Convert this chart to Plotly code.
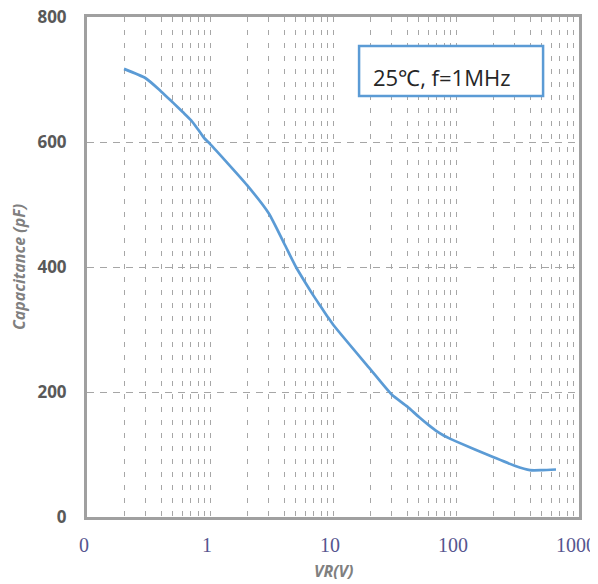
import plotly.graph_objects as go

# Data
vr = [0.2, 0.3, 0.4, 0.5, 0.6, 0.7, 0.8, 0.9, 1, 2, 3, 4, 5, 6, 7, 8, 9, 10,
      20, 30, 40, 50, 60, 70, 80, 90, 100, 200, 300, 400, 500, 650]
cap = [717, 702, 681, 663, 648, 635, 620, 606, 597, 531, 486, 438, 400, 374, 353, 336, 321, 308,
       237, 196, 177, 160, 147, 137, 130, 125, 121, 96, 82, 75, 75, 76]

x_label_vals = [0.1, 1, 10, 100, 1000]
x_label_text = ["0", "1", "10", "100", "1000"]
y_ticks = [0, 200, 400, 600, 800]
note_text = "25℃, f=1MHz"

# grid positions: 1..9 x each decade
grid_vals = []
for dec in [0.1, 1, 10, 100]:
    for m in range(1, 10):
        grid_vals.append(round(m * dec, 6))
grid_vals.append(1000)
grid_text = []
for v in grid_vals:
    if v in x_label_vals:
        grid_text.append(x_label_text[x_label_vals.index(v)])
    else:
        grid_text.append("")

fig = go.Figure()
fig.add_trace(go.Scatter(x=vr, y=cap, mode="lines",
                         line=dict(color="#5B9BD5", width=2.7, shape="spline", smoothing=0.6),
                         showlegend=False, hoverinfo="skip"))

fig.update_layout(
    width=590, height=576,
    margin=dict(l=79, r=19, t=9, b=67),
    paper_bgcolor="white", plot_bgcolor="white",
    showlegend=False,
)

fig.update_xaxes(
    type="log", range=[-1, 3], automargin=False,
    tickmode="array", tickvals=grid_vals, ticktext=grid_text,
    showgrid=True, gridcolor="#A6A6A6", gridwidth=1, griddash="5px,8px",
    showline=True, linecolor="#A0A0A0", linewidth=3, mirror=True,
    ticks="", zeroline=False, ticklabeloverflow="allow",
    tickfont=dict(family="Liberation Serif", size=20, color="#56568F"),
    ticklabelstandoff=8, ticklabelshift=-3,
)
fig.update_yaxes(
    range=[0, 800], tickmode="array", tickvals=y_ticks, automargin=False,
    showgrid=True, gridcolor="#A6A6A6", gridwidth=1, griddash="7px,6px",
    showline=True, linecolor="#A0A0A0", linewidth=3, mirror=True,
    ticks="", zeroline=False, ticklabeloverflow="allow",
    tickfont=dict(family="Open Sans", size=17, color="#595959", weight="bold"),
    ticklabelstandoff=14,
)

# axis titles
fig.add_annotation(text="<b><i>Capacitance (pF)</i></b>", xref="paper", yref="paper",
                   x=-0.138, y=0.5, xanchor="center", yanchor="middle", textangle=-90,
                   showarrow=False, font=dict(family="Open Sans", size=16, color="#808080"))
fig.add_annotation(text="<b><i>VR(V)</i></b>", xref="paper", yref="paper",
                   x=0.5, y=-0.108, xanchor="center", yanchor="middle",
                   showarrow=False, font=dict(family="Open Sans", size=16, color="#808080"))

# condition box
fig.add_shape(type="rect", xref="paper", yref="paper",
              x0=0.553, x1=0.927, y0=0.842, y1=0.942,
              line=dict(color="#5B9BD5", width=2.5), fillcolor="white", layer="above")
fig.add_annotation(text=note_text, xref="paper", yref="paper",
                   x=0.578, y=0.88, xanchor="left", yanchor="middle",
                   showarrow=False, font=dict(family="Open Sans", size=22, color="#262626"))

fig.write_html("out.html")
